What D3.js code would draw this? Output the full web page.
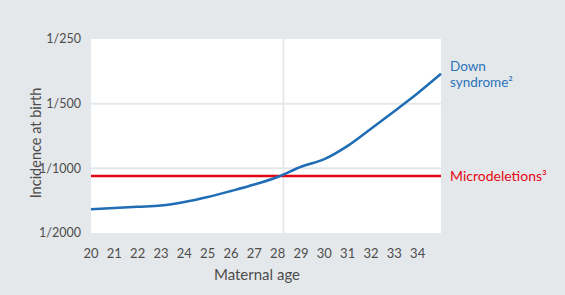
<!DOCTYPE html>
<html>
<head>
<meta charset="utf-8">
<script src="https://cdn.jsdelivr.net/npm/d3@7"></script>
<style>
  body { margin: 0; background: #e5e8eb; }
  svg text { font-family: Lato, "Noto Sans", sans-serif; }
</style>
</head>
<body>
<div id="chart"></div>
<script>
// maternal age on the x axis
const ages = [20, 21, 22, 23, 24, 25, 26, 27, 28, 29, 30, 31, 32, 33, 34, 35];
// Down syndrome incidence, read as 1/denominator
const downDenoms = [1550, 1530, 1510, 1490, 1435, 1360, 1275, 1190, 1097, 983, 906, 786, 654, 542, 447, 363];
// microdeletions, flat
const microDenom = 1085;
// age where the two lines cross (vertical marker)
const crossAge = 28.25;
const xTicks = [20, 21, 22, 23, 24, 25, 26, 27, 28, 29, 30, 31, 32, 33, 34];
const yTicks = [2000, 1000, 500, 250];
const yTickLabels = ["1/2000", "1/1000", "1/500", "1/250"];

const W = 565, H = 295;
const margin = { top: 39, right: 124, bottom: 62, left: 91 };
const width = W - margin.left - margin.right;
const height = H - margin.top - margin.bottom;

const svg = d3.select("#chart").append("svg")
  .attr("width", W)
  .attr("height", H)
  .style("display", "block");

svg.append("rect").attr("width", W).attr("height", H).attr("fill", "#e5e8eb");

const g = svg.append("g")
  .attr("transform", "translate(" + margin.left + "," + margin.top + ")");

const x = d3.scaleLinear().domain([20, 35]).range([0, width]);
const y = d3.scaleLog().base(2).domain([2000, 250]).range([height, 0]);

g.append("rect").attr("width", width).attr("height", height).attr("fill", "#fff");

// horizontal gridlines
g.selectAll(".grid")
  .data(yTicks.slice(1, 3))
  .enter()
  .append("line")
  .attr("x1", 0).attr("x2", width)
  .attr("y1", d => y(d)).attr("y2", d => y(d))
  .attr("stroke", "#e5e8eb")
  .attr("stroke-width", 2);

g.append("line")
  .attr("x1", x(crossAge)).attr("x2", x(crossAge))
  .attr("y1", 0).attr("y2", height)
  .attr("stroke", "#e5e8eb")
  .attr("stroke-width", 2);

// y tick labels
g.selectAll(".ylab")
  .data(yTicks)
  .enter()
  .append("text")
  .attr("x", -10)
  .attr("y", d => y(d))
  .attr("dy", "0.35em")
  .attr("text-anchor", "end")
  .attr("font-size", 12.5)
  .attr("fill", "#4d4d4d")
  .text((d, i) => yTickLabels[i]);

// x tick labels
g.selectAll(".xlab")
  .data(xTicks)
  .enter()
  .append("text")
  .attr("x", d => x(d))
  .attr("y", height + 20)
  .attr("dy", "0.35em")
  .attr("text-anchor", "middle")
  .attr("font-size", 13)
  .attr("fill", "#4d4d4d")
  .text(d => d);

g.append("text")
  .attr("x", width / 2 - 9)
  .attr("y", height + 42)
  .attr("dy", "0.35em")
  .attr("text-anchor", "middle")
  .attr("font-size", 15)
  .attr("fill", "#4d4d4d")
  .text("Maternal age");

g.append("text")
  .attr("transform", "translate(" + (-55) + "," + (height / 2 + 7) + ") rotate(-90)")
  .attr("text-anchor", "middle")
  .attr("dy", "0.35em")
  .attr("font-size", 14.5)
  .attr("fill", "#4d4d4d")
  .text("Incidence at birth");

// microdeletions line
g.append("line")
  .attr("x1", 0).attr("x2", width)
  .attr("y1", y(microDenom)).attr("y2", y(microDenom))
  .attr("stroke", "#e30613")
  .attr("stroke-width", 2.5);

// down syndrome curve
const line = d3.line()
  .x((d, i) => x(ages[i]))
  .y(d => y(d))
  .curve(d3.curveMonotoneX);

g.append("path")
  .datum(downDenoms)
  .attr("d", line)
  .attr("fill", "none")
  .attr("stroke", "#1f6db5")
  .attr("stroke-width", 2.5);

// labels on the right
const lx = width + 9;
const endY = y(downDenoms[downDenoms.length - 1]);
g.append("text")
  .attr("x", lx).attr("y", endY - 2.5)
  .attr("font-size", 13.5)
  .attr("fill", "#2a73bb")
  .text("Down");
g.append("text")
  .attr("x", lx).attr("y", endY + 13.5)
  .attr("font-size", 13.5)
  .attr("fill", "#2a73bb")
  .text("syndrome²");

g.append("text")
  .attr("x", lx).attr("y", y(microDenom))
  .attr("dy", "0.35em")
  .attr("font-size", 14)
  .attr("fill", "#e30613")
  .text("Microdeletions³");
</script>
</body>
</html>
